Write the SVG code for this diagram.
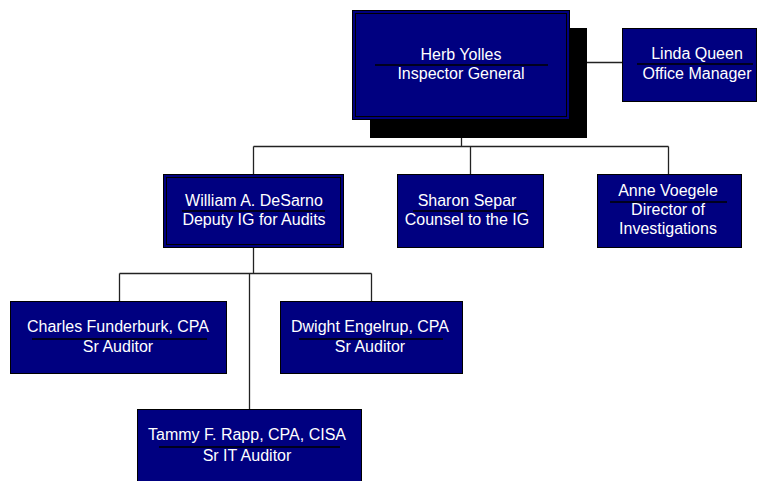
<svg xmlns="http://www.w3.org/2000/svg" width="758" height="481" viewBox="0 0 758 481">
<style>
.box{fill:#000080;stroke:#000;stroke-width:1}
.inner{fill:none;stroke:#000;stroke-width:1}
.t{fill:#fff;font-family:"Liberation Sans",Arial,sans-serif;font-size:16px;text-anchor:middle}
.ul{stroke:#000;stroke-width:1.5}
.c{stroke:#222;stroke-width:1.3;fill:none}
</style>
<rect width="758" height="481" fill="#fff"/>
<g id="connectors">
<path class="c" d="M461.5 138V146.5M253.5 146.5H668.5M253.5 146.5V174M470.5 146.5V174M668.5 146.5V174"/>
<path class="c" d="M587 62.5H622"/>
<path class="c" d="M253.5 248V273.5M119.5 273.5H371.5M119.5 273.5V301M371.5 273.5V301M249.5 273.5V409"/>
</g>
<g id="herb">
<rect x="370" y="28" width="217" height="110" fill="#000"/>
<rect class="box" x="352.5" y="10.5" width="217" height="109"/>
<rect class="inner" x="355.5" y="13.5" width="211" height="103"/>
<text class="t" x="461" y="60">Herb Yolles</text>
<line class="ul" x1="375" y1="65" x2="548" y2="65"/>
<text class="t" x="461" y="79">Inspector General</text>
</g>
<g id="linda">
<rect class="box" x="622.5" y="28.5" width="134" height="73"/>
<text class="t" x="697" y="59">Linda Queen</text>
<line class="ul" x1="637" y1="64" x2="753" y2="64"/>
<text class="t" x="697" y="79">Office Manager</text>
</g>
<g id="william">
<rect class="box" x="163.5" y="174.5" width="180" height="73"/>
<rect class="inner" x="166.5" y="177.5" width="174" height="67"/>
<text class="t" x="254" y="206">William A. DeSarno</text>
<line class="ul" x1="182" y1="211" x2="325" y2="211"/>
<text class="t" x="254" y="225">Deputy IG for Audits</text>
</g>
<g id="sharon">
<rect class="box" x="397.5" y="174.5" width="146" height="73"/>
<text class="t" x="467" y="206">Sharon Separ</text>
<line class="ul" x1="413" y1="211" x2="527" y2="211"/>
<text class="t" x="467" y="225">Counsel to the IG</text>
</g>
<g id="anne">
<rect class="box" x="597.5" y="174.5" width="144" height="73"/>
<text class="t" x="668" y="196">Anne Voegele</text>
<line class="ul" x1="610" y1="202" x2="727" y2="202"/>
<text class="t" x="668" y="215">Director of</text>
<text class="t" x="668" y="234">Investigations</text>
</g>
<g id="charles">
<rect class="box" x="10.5" y="301.5" width="216" height="72"/>
<text class="t" x="118" y="332">Charles Funderburk, CPA</text>
<line class="ul" x1="32" y1="339" x2="207" y2="339"/>
<text class="t" x="118" y="352">Sr Auditor</text>
</g>
<g id="dwight">
<rect class="box" x="280.5" y="301.5" width="182" height="72"/>
<text class="t" x="370" y="332">Dwight Engelrup, CPA</text>
<line class="ul" x1="299" y1="339" x2="443" y2="339"/>
<text class="t" x="370" y="352">Sr Auditor</text>
</g>
<g id="tammy">
<rect class="box" x="137.5" y="409.5" width="224" height="76"/>
<text class="t" x="247" y="440">Tammy F. Rapp, CPA, CISA</text>
<line class="ul" x1="159" y1="447" x2="340" y2="447"/>
<text class="t" x="247" y="461">Sr IT Auditor</text>
</g>
</svg>
